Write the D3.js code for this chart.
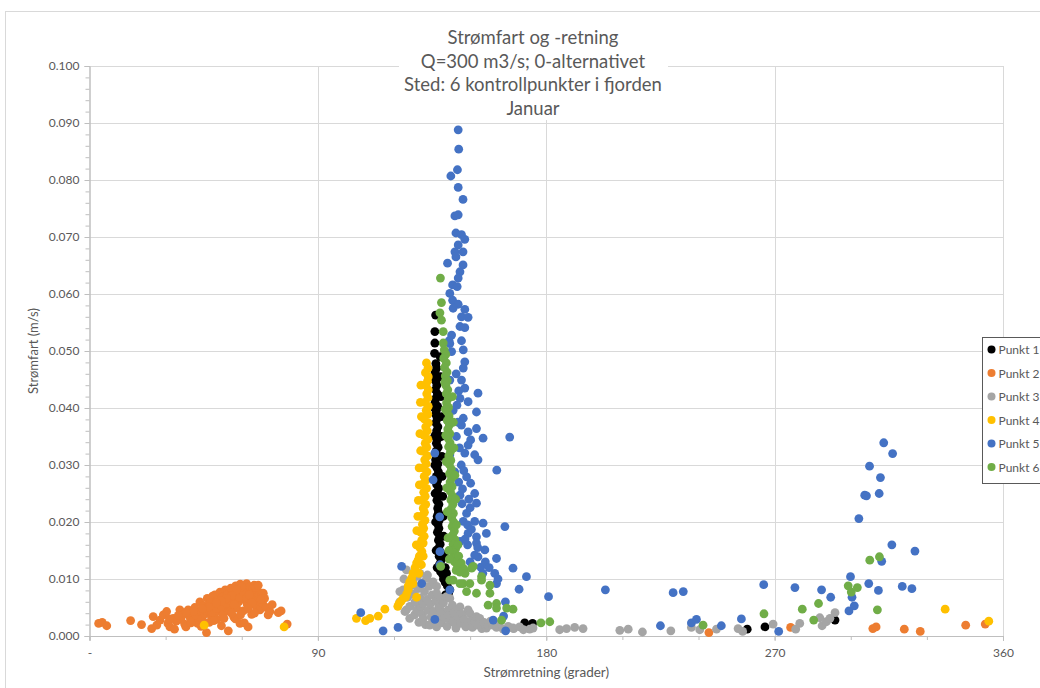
<!DOCTYPE html>
<html>
<head>
<meta charset="utf-8">
<script src="https://cdn.jsdelivr.net/npm/d3@7"></script>
<style>
  html, body { margin: 0; padding: 0; background: #fff; }
  svg { display: block; }
  text { font-family: Lato, "Open Sans", sans-serif; fill: #595959; }
</style>
</head>
<body>
<svg id="chart" width="1040" height="688"></svg>
<script>
// ---- Data: [retning (grader), fart (m/s)] per kontrollpunkt ----
const seriesNames = ["Punkt 1", "Punkt 2", "Punkt 3", "Punkt 4", "Punkt 5", "Punkt 6"];
const seriesColors = ["#000000", "#ED7D31", "#A5A5A5", "#FFC000", "#4472C4", "#70AD47"];

const titleLines = ["Strømfart og -retning", "Q=300 m3/s; 0-alternativet", "Sted: 6 kontrollpunkter i fjorden", "Januar"];
const xTickValues = [0, 90, 180, 270, 360];
const xTickLabels = ["-", "90", "180", "270", "360"];
const yTickValues = [0, 0.01, 0.02, 0.03, 0.04, 0.05, 0.06, 0.07, 0.08, 0.09, 0.1];
const yTickLabels = ["0.000", "0.010", "0.020", "0.030", "0.040", "0.050", "0.060", "0.070", "0.080", "0.090", "0.100"];

const punkt1 = [
  [136.4,0.0563],[136.1,0.0534],[136.1,0.0514],[136.0,0.0496],[136.5,0.0478],[136.8,0.0470],[136.2,0.0462],[137.0,0.0455],
  [136.5,0.0447],[136.9,0.0440],[136.3,0.0432],[137.1,0.0425],[136.6,0.0418],[136.2,0.0410],[137.2,0.0403],[136.7,0.0396],
  [136.4,0.0389],[137.0,0.0381],[136.5,0.0374],[137.3,0.0367],[136.8,0.0360],[136.3,0.0352],[137.1,0.0345],[136.7,0.0338],
  [137.4,0.0331],[136.6,0.0324],[137.0,0.0316],[136.4,0.0309],[137.3,0.0302],[136.9,0.0295],[137.5,0.0288],[136.7,0.0280],
  [137.2,0.0273],[136.8,0.0266],[137.6,0.0259],[137.0,0.0252],[137.4,0.0245],[136.9,0.0238],[137.7,0.0231],[137.2,0.0224],
  [137.5,0.0217],[137.0,0.0210],[137.8,0.0203],[137.3,0.0196],[137.7,0.0189],[137.1,0.0182],[138.0,0.0175],[137.5,0.0168],
  [138.2,0.0161],[137.6,0.0154],[138.3,0.0147],[137.8,0.0140],[138.6,0.0133],[138.0,0.0126],[138.9,0.0120],[138.3,0.0113],
  [139.2,0.0108],[140.7,0.0110],[139.5,0.0100],[140.2,0.0094],[141.0,0.0088],[142.0,0.0081],[141.5,0.0075],[140.3,0.0072],
  [138.2,0.0490],[138.4,0.0455],[138.5,0.0420],[138.6,0.0385],[138.7,0.0350],[138.9,0.0315],[139.0,0.0280],[139.2,0.0245],
  [139.4,0.0210],[139.6,0.0175],[139.9,0.0140],[140.2,0.0120],[136.0,0.0450],[135.9,0.0400],[136.0,0.0350],[136.1,0.0300],
  [136.2,0.0250],[136.4,0.0200],[136.6,0.0150],[137.0,0.0120],
  [171.5,0.0023],[174.6,0.0022],[259.2,0.0012],[266.2,0.0016],[293.8,0.0028]
];

const punkt2 = [
  [3.6,0.0022],[5.0,0.0024],[6.8,0.0018],[16.2,0.0027],[20.5,0.0020],[24.5,0.0013],[25.1,0.0034],[26.5,0.0019],
  [27.8,0.0028],[29.1,0.0037],[30.4,0.0043],[30.9,0.0022],[31.7,0.0016],[33.0,0.0031],[34.2,0.0026],[35.6,0.0046],
  [36.0,0.0029],[36.8,0.0038],[37.5,0.0021],[38.9,0.0046],[39.5,0.0033],[40.2,0.0041],[40.8,0.0027],[41.5,0.0050],
  [42.0,0.0036],[42.6,0.0022],[43.5,0.0060],[43.8,0.0044],[44.3,0.0031],[45.0,0.0053],[45.5,0.0039],[46.1,0.0006],
  [46.4,0.0066],[46.8,0.0047],[47.2,0.0024],[47.6,0.0058],[48.0,0.0035],[48.5,0.0070],[48.8,0.0051],[49.4,0.0072],
  [49.7,0.0042],[50.2,0.0029],[50.5,0.0063],[51.0,0.0055],[51.4,0.0077],[51.8,0.0047],[52.3,0.0068],[52.6,0.0038],
  [53.1,0.0059],[53.5,0.0081],[53.9,0.0050],[54.3,0.0072],[54.7,0.0009],[54.9,0.0064],[55.3,0.0043],[55.7,0.0084],
  [56.0,0.0056],[56.6,0.0078],[56.9,0.0033],[57.2,0.0068],[57.6,0.0088],[58.0,0.0049],[58.4,0.0074],[58.8,0.0060],
  [59.3,0.0022],[59.4,0.0091],[59.8,0.0082],[60.2,0.0065],[60.6,0.0044],[61.0,0.0088],[61.2,0.0071],[61.9,0.0092],
  [62.1,0.0056],[62.5,0.0016],[62.7,0.0079],[63.2,0.0086],[63.5,0.0063],[63.9,0.0038],[64.2,0.0082],[64.5,0.0075],
  [64.9,0.0089],[65.3,0.0068],[65.6,0.0052],[66.0,0.0080],[66.4,0.0061],[66.9,0.0071],[67.2,0.0046],[67.8,0.0075],
  [68.2,0.0058],[68.5,0.0075],[69.0,0.0066],[69.6,0.0050],[70.4,0.0037],[71.1,0.0043],[72.0,0.0055],[74.4,0.0041],
  [75.5,0.0044],[77.9,0.0021],[61.0,0.0023],[57.5,0.0030],[52.0,0.0018],[44.0,0.0017],[38.0,0.0016],[33.5,0.0012],
  [46.0,0.0045],[48.3,0.0041],[50.0,0.0048],[52.0,0.0052],[54.0,0.0057],[55.5,0.0062],[57.0,0.0055],[59.0,0.0068],
  [60.5,0.0077],[62.0,0.0067],[63.0,0.0072],[64.0,0.0058],[65.5,0.0085],[66.5,0.0089],[60.0,0.0086],[58.0,0.0081],
  [56.0,0.0071],[54.0,0.0066],[52.0,0.0061],[50.0,0.0058],[47.0,0.0051],[44.5,0.0048],[41.0,0.0043],[38.0,0.0041],
  [35.0,0.0036],[31.5,0.0030],[62.5,0.0048],[59.5,0.0037],[56.0,0.0040],[53.0,0.0031],[49.0,0.0027],[45.5,0.0023],
  [40.0,0.0023],[65.0,0.0040],[67.5,0.0064],
  [244.1,0.0006],[276.3,0.0015],[308.7,0.0013],[310.0,0.0016],[321.1,0.0012],[327.4,0.0008],[345.3,0.0019],[353.0,0.0021]
];

const punkt3 = [
  [122.3,0.0078],[122.3,0.0060],[123.6,0.0081],[123.9,0.0100],[124.3,0.0043],[124.9,0.0116],[124.9,0.0046],[125.4,0.0068],
  [126.2,0.0031],[126.2,0.0052],[126.8,0.0089],[127.5,0.0098],[127.6,0.0074],[128.1,0.0037],[128.3,0.0060],[128.9,0.0046],
  [129.2,0.0105],[129.4,0.0083],[129.8,0.0024],[130.2,0.0110],[130.3,0.0067],[130.6,0.0051],[131.0,0.0093],[131.2,0.0038],
  [131.5,0.0057],[131.5,0.0031],[132.0,0.0078],[132.4,0.0020],[132.8,0.0101],[133.0,0.0064],[133.2,0.0107],[133.4,0.0045],
  [133.8,0.0087],[134.1,0.0019],[134.3,0.0056],[134.6,0.0033],[135.0,0.0072],[135.4,0.0095],[135.6,0.0043],[136.1,0.0026],
  [136.4,0.0061],[136.8,0.0087],[136.8,0.0075],[136.8,0.0016],[137.4,0.0036],[137.7,0.0052],[138.0,0.0049],[138.3,0.0067],
  [138.6,0.0023],[139.1,0.0041],[139.5,0.0058],[140.0,0.0031],[140.7,0.0069],[140.9,0.0017],[141.3,0.0046],[141.8,0.0036],
  [142.0,0.0066],[142.4,0.0025],[143.0,0.0054],[143.3,0.0025],[143.7,0.0040],[144.4,0.0014],[145.0,0.0033],[145.5,0.0047],
  [146.0,0.0051],[146.3,0.0022],[147.0,0.0038],[147.6,0.0029],[148.3,0.0016],[148.6,0.0018],[149.2,0.0046],[149.9,0.0040],
  [150.3,0.0027],[150.9,0.0015],[151.8,0.0025],[152.5,0.0034],[153.0,0.0019],[153.8,0.0031],[154.6,0.0013],[155.5,0.0024],
  [156.4,0.0014],[157.1,0.0018],[158.0,0.0026],[159.0,0.0019],[160.4,0.0015],[161.5,0.0021],[163.0,0.0012],[165.0,0.0017],
  [166.9,0.0014],[167.2,0.0013],[169.5,0.0016],[171.0,0.0011],[173.5,0.0012],[174.8,0.0014],
  [185.3,0.0011],[188.0,0.0013],[191.2,0.0015],[194.5,0.0013],[209.0,0.0010],[212.3,0.0012],[217.9,0.0007],[229.1,0.0009],
  [237.2,0.0015],[240.5,0.0011],[247.1,0.0012],[255.6,0.0013],[257.4,0.0008],[269.4,0.0021],[279.9,0.0022],[278.3,0.0012],
  [287.8,0.0032],[288.7,0.0018],[290.4,0.0025],[293.8,0.0041],[291.8,0.0031]
];

const punkt4 = [
  [132.8,0.0479],[133.4,0.0470],[132.4,0.0462],[133.5,0.0455],[133.2,0.0447],[132.6,0.0440],[133.5,0.0432],[132.9,0.0425],
  [133.4,0.0418],[132.2,0.0410],[133.5,0.0403],[132.7,0.0396],[133.3,0.0389],[131.9,0.0381],[133.5,0.0374],[132.5,0.0367],
  [133.1,0.0360],[131.8,0.0352],[133.4,0.0345],[132.3,0.0338],[132.9,0.0331],[131.6,0.0324],[133.2,0.0316],[132.1,0.0309],
  [132.7,0.0302],[131.4,0.0295],[133.0,0.0288],[131.9,0.0280],[132.5,0.0273],[131.2,0.0266],[132.8,0.0259],[131.7,0.0252],
  [132.3,0.0245],[131.0,0.0238],[132.5,0.0231],[131.5,0.0224],[132.0,0.0217],[130.8,0.0210],[132.2,0.0203],[131.2,0.0196],
  [131.7,0.0189],[130.5,0.0182],[131.9,0.0175],[130.9,0.0168],[131.5,0.0163],[130.2,0.0155],[131.0,0.0148],[130.0,0.0140],
  [129.5,0.0133],[128.9,0.0128],[128.3,0.0120],[127.5,0.0110],[127.0,0.0102],[126.2,0.0095],[125.6,0.0088],[125.6,0.0081],
  [125.0,0.0074],[124.5,0.0068],[128.9,0.0068],[123.6,0.0066],[122.8,0.0061],[122.0,0.0057],[121.5,0.0052],
  [130.6,0.0440],[130.4,0.0410],[130.8,0.0385],[130.2,0.0355],[130.5,0.0325],[129.9,0.0295],[130.0,0.0265],[129.6,0.0238],
  [129.4,0.0210],[129.0,0.0185],[128.8,0.0160],[131.5,0.0140],[130.8,0.0125],[129.8,0.0110],[127.5,0.0092],[125.6,0.0084],
  [116.4,0.0047],[113.8,0.0035],[110.5,0.0031],[108.8,0.0027],[105.2,0.0031],
  [45.2,0.0019],[76.7,0.0016],[337.2,0.0047],[354.4,0.0026]
];

const punkt5 = [
  [145.3,0.0888],[145.5,0.0854],[145.0,0.0818],[142.4,0.0807],[145.3,0.0787],[147.2,0.0766],[145.3,0.0739],[144.0,0.0737],
  [144.4,0.0707],[146.6,0.0704],[147.9,0.0696],[145.3,0.0686],[144.0,0.0674],[147.2,0.0674],[144.4,0.0665],[141.1,0.0654],
  [147.2,0.0651],[146.0,0.0639],[145.3,0.0628],[143.1,0.0616],[144.9,0.0613],[142.0,0.0601],[143.1,0.0589],[145.3,0.0582],
  [143.3,0.0575],[147.9,0.0573],[146.6,0.0560],[149.2,0.0559],[146.0,0.0543],[147.9,0.0541],[142.7,0.0528],[146.6,0.0518],
  [141.7,0.0518],[142.0,0.0513],[147.3,0.0502],[142.7,0.0499],[147.9,0.0481],[147.3,0.0470],[146.6,0.0449],[142.0,0.0449],
  [147.9,0.0435],[153.1,0.0426],[146.0,0.0417],[149.2,0.0411],[143.3,0.0396],[152.5,0.0393],[147.3,0.0382],[146.6,0.0370],
  [152.5,0.0364],[149.2,0.0358],[155.1,0.0347],[150.2,0.0344],[165.6,0.0349],[149.2,0.0335],[147.9,0.0321],[151.8,0.0318],
  [153.1,0.0309],[142.0,0.0318],[136.1,0.0321],[160.5,0.0291],[143.9,0.0288],[148.6,0.0279],[135.4,0.0274],[150.2,0.0268],
  [151.8,0.0250],[146.0,0.0247],[152.5,0.0233],[148.6,0.0215],[138.0,0.0209],[147.3,0.0201],[151.8,0.0201],[155.1,0.0198],
  [163.7,0.0192],[152.5,0.0174],[156.4,0.0180],[149.2,0.0180],[152.5,0.0163],[155.8,0.0151],[146.0,0.0166],[149.0,0.0160],
  [138.1,0.0148],[160.4,0.0136],[153.1,0.0139],[151.8,0.0142],[138.1,0.0125],[154.2,0.0121],[166.9,0.0119],[123.0,0.0122],
  [159.7,0.0110],[172.2,0.0104],[130.9,0.0092],[160.4,0.0092],[142.0,0.0081],[169.3,0.0082],[180.9,0.0069],[163.9,0.0060],
  [203.3,0.0081],[106.9,0.0041],[136.1,0.0029],[163.2,0.0035],[159.1,0.0028],[121.6,0.0015],[115.7,0.0009],[164.0,0.0009],
  [144.5,0.0460],[145.5,0.0430],[144.8,0.0405],[145.2,0.0375],[144.6,0.0350],[145.8,0.0330],[146.5,0.0300],[147.5,0.0290],
  [145.5,0.0270],[147.0,0.0258],[149.5,0.0240],[150.0,0.0225],[146.8,0.0232],[149.0,0.0195],[150.5,0.0187],[148.0,0.0170],
  [153.0,0.0155],[156.0,0.0130],[157.5,0.0120],[150.0,0.0130],[161.0,0.0100],[155.0,0.0110],
  [225.0,0.0018],[230.0,0.0076],[234.0,0.0078],[237.2,0.0023],[239.2,0.0029],[249.0,0.0018],[256.9,0.0030],[265.7,0.0090],
  [271.6,0.0008],[278.0,0.0085],[288.5,0.0081],[292.1,0.0068],[299.3,0.0044],[299.9,0.0104],[300.5,0.0068],[301.4,0.0053],
  [303.2,0.0206],[305.5,0.0247],[306.2,0.0246],[307.1,0.0092],[307.4,0.0298],[310.9,0.0080],[311.2,0.0250],[311.7,0.0278],
  [312.2,0.0131],[313.0,0.0339],[316.2,0.0160],[316.5,0.0320],[320.3,0.0087],[324.1,0.0083],[325.3,0.0149]
];

const punkt6 = [
  [138.3,0.0628],[138.7,0.0585],[138.1,0.0567],[138.7,0.0554],[139.4,0.0534],[139.4,0.0514],[139.8,0.0502],[140.4,0.0494],
  [139.6,0.0487],[140.6,0.0479],[139.9,0.0471],[140.9,0.0463],[140.2,0.0456],[141.0,0.0448],[140.4,0.0440],[141.2,0.0432],
  [140.6,0.0425],[141.4,0.0417],[140.7,0.0409],[141.5,0.0401],[140.9,0.0394],[141.7,0.0386],[141.0,0.0378],[141.8,0.0370],
  [141.2,0.0363],[142.0,0.0355],[141.3,0.0347],[142.1,0.0339],[141.5,0.0332],[142.3,0.0324],[141.6,0.0316],[142.4,0.0308],
  [141.8,0.0301],[142.6,0.0293],[141.9,0.0285],[142.7,0.0277],[142.1,0.0270],[142.9,0.0262],[142.2,0.0254],[143.0,0.0246],
  [142.4,0.0239],[143.2,0.0231],[142.5,0.0223],[143.4,0.0215],[142.7,0.0208],[143.5,0.0200],[142.9,0.0192],[143.8,0.0184],
  [143.1,0.0177],[144.0,0.0169],[143.3,0.0161],[144.3,0.0153],[143.6,0.0146],[144.6,0.0138],[143.9,0.0130],[145.0,0.0123],
  [140.0,0.0445],[143.0,0.0420],[140.2,0.0398],[143.4,0.0375],[140.4,0.0352],[143.6,0.0330],[140.6,0.0306],[144.0,0.0282],
  [140.8,0.0260],[144.3,0.0240],[141.0,0.0218],[144.6,0.0195],[141.3,0.0172],[145.2,0.0160],[141.6,0.0150],[145.5,0.0140],
  [141.8,0.0135],[146.5,0.0128],[147.5,0.0118],
  [138.4,0.0122],[144.5,0.0115],[146.0,0.0112],[148.0,0.0110],[150.6,0.0119],[151.2,0.0122],[143.3,0.0098],[147.2,0.0092],
  [142.0,0.0098],[146.0,0.0092],[149.9,0.0092],[154.5,0.0104],[154.5,0.0098],[148.6,0.0078],[152.5,0.0075],[157.8,0.0089],
  [157.8,0.0075],[157.1,0.0054],[160.4,0.0057],[160.4,0.0049],[164.4,0.0049],[166.9,0.0047],[162.4,0.0028],
  [177.9,0.0023],[181.4,0.0025],
  [241.8,0.0019],[265.8,0.0039],[280.9,0.0047],[285.4,0.0028],[287.3,0.0057],[299.0,0.0088],[300.2,0.0077],[302.6,0.0085],
  [307.5,0.0133],[310.5,0.0046],[311.3,0.0139]
];

const seriesData = [punkt1, punkt2, punkt3, punkt4, punkt5, punkt6];

// ---- Layout ----
const svg = d3.select("#chart");
const plot = { left: 89.5, right: 1003, top: 66, bottom: 636 };

const x = d3.scaleLinear().domain([0, 360]).range([plot.left, plot.right]);
const y = d3.scaleLinear().domain([0, 0.1]).range([plot.bottom, plot.top]);

// outer chart frame
svg.append("rect")
  .attr("x", 5.5).attr("y", 11.5).attr("width", 1100).attr("height", 700)
  .attr("fill", "none").attr("stroke", "#d9d9d9");

// gridlines
const grid = svg.append("g").attr("stroke", "#d9d9d9").attr("stroke-width", 1);
grid.selectAll(".hg").data(yTickValues.slice(1)).join("line")
  .attr("x1", plot.left).attr("x2", plot.right)
  .attr("y1", d => Math.round(y(d)) + 0.5).attr("y2", d => Math.round(y(d)) + 0.5);
grid.selectAll(".vg").data(xTickValues.slice(1)).join("line")
  .attr("y1", plot.top).attr("y2", plot.bottom)
  .attr("x1", d => Math.round(x(d)) + 0.5).attr("x2", d => Math.round(x(d)) + 0.5);

// axes
const axisColor = "#bfbfbf";
const yAxis = svg.append("g").attr("transform", `translate(${plot.left},0)`)
  .call(d3.axisLeft(y).tickValues(yTickValues).tickFormat((d, i) => yTickLabels[i]).tickSize(5).tickPadding(5));
const yMinor = svg.append("g").attr("transform", `translate(${plot.left},0)`)
  .call(d3.axisLeft(y).tickValues(d3.range(0, 0.1001, 0.002)).tickFormat("").tickSize(4));
const xAxis = svg.append("g").attr("transform", `translate(0,${plot.bottom})`)
  .call(d3.axisBottom(x).tickValues(xTickValues).tickFormat((d, i) => xTickLabels[i]).tickSize(5).tickPadding(7));
const xMinor = svg.append("g").attr("transform", `translate(0,${plot.bottom})`)
  .call(d3.axisBottom(x).tickValues(d3.range(0, 361, 30)).tickFormat("").tickSize(4));

[yAxis, yMinor, xAxis, xMinor].forEach(g => {
  g.selectAll("path, line").attr("stroke", axisColor);
  g.selectAll("text").attr("font-size", 12).attr("fill", "#595959").style("font-family", "Lato, sans-serif");
});

// title block (white box over the top gridline)
svg.append("rect").attr("x", 399).attr("y", 22).attr("width", 269).attr("height", 98).attr("fill", "#fff");
svg.append("g").selectAll("text").data(titleLines).join("text")
  .attr("x", 533).attr("y", (d, i) => 44 + i * 23.5)
  .attr("text-anchor", "middle").attr("font-size", 18.5)
  .text(d => d);

// axis titles
svg.append("text")
  .attr("transform", `translate(38,${(plot.top + plot.bottom) / 2}) rotate(-90)`)
  .attr("text-anchor", "middle").attr("font-size", 13)
  .text("Strømfart (m/s)");
svg.append("text")
  .attr("x", (plot.left + plot.right) / 2).attr("y", 677)
  .attr("text-anchor", "middle").attr("font-size", 13.5)
  .text("Strømretning (grader)");

// scatter points, series drawn in order so later series sit on top
const pts = svg.append("g");
seriesData.forEach((data, s) => {
  pts.append("g").selectAll("circle").data(data).join("circle")
    .attr("cx", d => x(d[0])).attr("cy", d => y(d[1]))
    .attr("r", 4.4).attr("fill", seriesColors[s]);
});

// legend
const legend = svg.append("g").attr("transform", "translate(982.5,337.5)");
legend.append("rect").attr("width", 80).attr("height", 146)
  .attr("fill", "#fff").attr("stroke", "#595959");
const items = legend.selectAll(".item").data(seriesNames).join("g")
  .attr("transform", (d, i) => `translate(0,${12 + i * 23.5})`);
items.append("circle").attr("cx", 9).attr("cy", 0).attr("r", 4).attr("fill", (d, i) => seriesColors[i]);
items.append("text").attr("x", 16).attr("y", 4.5).attr("font-size", 12).text(d => d);
</script>
</body>
</html>
